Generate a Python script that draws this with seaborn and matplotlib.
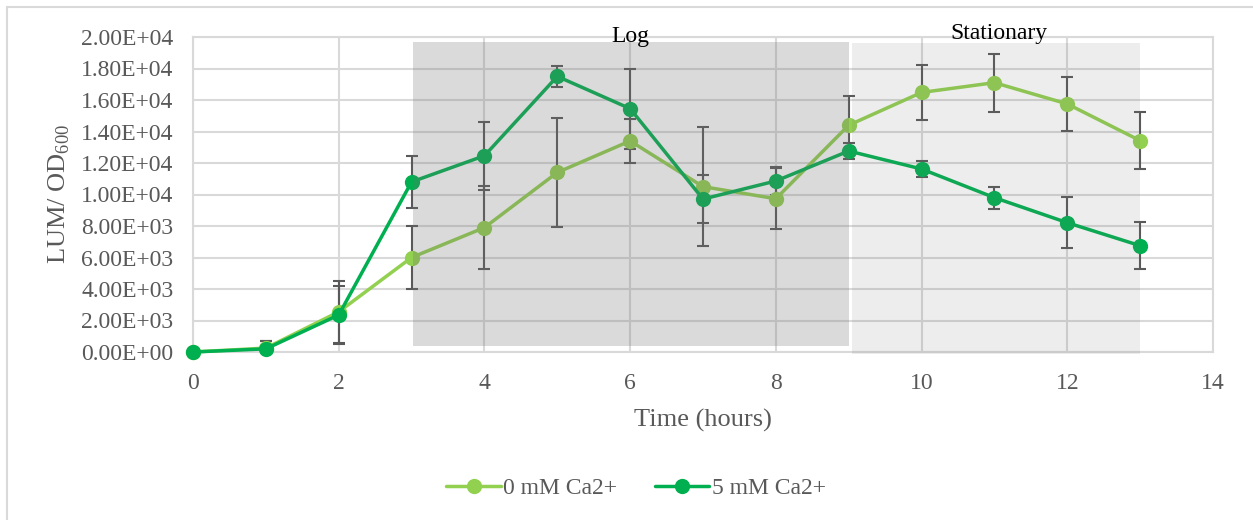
import numpy as np
import pandas as pd
import matplotlib
matplotlib.use("Agg")
import matplotlib.pyplot as plt
from matplotlib.patches import Rectangle
from matplotlib.lines import Line2D
from matplotlib.ticker import FuncFormatter, MultipleLocator
import seaborn as sns

# ---- data ----
time_h = [0, 1, 2, 3, 4, 5, 6, 7, 8, 9, 10, 11, 12, 13]
lum_0mM = [0, 250, 2550, 6000, 7900, 11400, 13400, 10500, 9730, 14400, 16480, 17100, 15750, 13420]
err_0mM = [0, 450, 1950, 2000, 2650, 3450, 1400, 3800, 1950, 1840, 1730, 1850, 1730, 1800]
lum_5mM = [0, 200, 2350, 10800, 12460, 17500, 15450, 9710, 10860, 12760, 11620, 9800, 8210, 6750]
err_5mM = [0, 500, 1850, 1630, 2170, 670, 2550, 1500, 900, 530, 500, 700, 1600, 1500]
series_names = ["0 mM Ca2+", "5 mM Ca2+"]
phase_labels = ["Log", "Stationary"]

df = pd.DataFrame({
    "Time": time_h * 2,
    "LUM": lum_0mM + lum_5mM,
    "Series": [series_names[0]] * len(time_h) + [series_names[1]] * len(time_h),
})

sns.set_theme(style="white")
plt.rcParams["font.family"] = ["Liberation Serif", "DejaVu Serif"]
plt.rcParams["mathtext.fontset"] = "custom"
plt.rcParams["mathtext.rm"] = "Liberation Serif"

W, H = 1253, 520
fig = plt.figure(figsize=(W / 100, H / 100), dpi=100)
ax = fig.add_axes([193 / W, 1 - 352 / H, 1020 / W, 315 / H])

colors = {series_names[0]: "#92D050", series_names[1]: "#00B050"}
grey_txt = "#595959"

# error bars
for vals, errs in [(lum_0mM, err_0mM), (lum_5mM, err_5mM)]:
    ax.errorbar(time_h, vals, yerr=errs, fmt="none", ecolor=grey_txt,
                elinewidth=1.5, capsize=4.5, capthick=1.5, zorder=2)

sns.lineplot(data=df, x="Time", y="LUM", hue="Series", palette=colors,
             marker="o", markersize=11, markeredgewidth=0, linewidth=2.5,
             ax=ax, legend=False, zorder=3)
for ln in ax.lines:
    if ln.get_marker() == "o":
        ln.set_clip_on(False)

# phase shading
ax.add_patch(Rectangle((3.02, 380), 9.0 - 3.02, 19680 - 380, facecolor="#717171",
                       alpha=0.26, edgecolor="none", zorder=4, clip_on=False))
ax.add_patch(Rectangle((9.04, -130), 13.0 - 9.04, 19600 + 130, facecolor="#717171",
                       alpha=0.127, edgecolor="none", zorder=4, clip_on=False))
ax.text(6.0, 20060, phase_labels[0], ha="center", va="center", fontsize=17,
        color="black", zorder=6, clip_on=False)
ax.text(11.06, 20250, phase_labels[1], ha="center", va="center", fontsize=17,
        color="black", zorder=6, clip_on=False)

ax.set_xlim(0, 14)
ax.set_ylim(0, 20000)
ax.xaxis.set_major_locator(MultipleLocator(2))
ax.yaxis.set_major_locator(MultipleLocator(2000))
ax.yaxis.set_major_formatter(FuncFormatter(lambda v, p: f"{v:.2E}"))
ax.grid(True, color="#D9D9D9", linewidth=1.5, zorder=0)
ax.set_axisbelow(True)
for s in ax.spines.values():
    s.set_color("#D9D9D9")
    s.set_linewidth(1.5)
ax.tick_params(axis="both", length=0, labelsize=17, labelcolor=grey_txt)
ax.tick_params(axis="y", pad=14)
ax.tick_params(axis="x", pad=15)
ax.set_xlabel("Time (hours)", fontsize=19, color=grey_txt, labelpad=11)
ax.set_ylabel(r"LUM/ OD$_\mathrm{600}$", fontsize=19, color=grey_txt)
ax.yaxis.set_label_coords(-(193 - 72) / 1020, 0.5)

handles = [Line2D([], [], color=colors[n], marker="o", markersize=11, markeredgewidth=0,
                  linewidth=2.5) for n in series_names]
fig.legend(handles, series_names, loc="center", bbox_to_anchor=(636 / W, 1 - 488 / H),
           ncol=2, frameon=False, fontsize=17, labelcolor=grey_txt,
           handlelength=2.3, handletextpad=0.1, columnspacing=1.6)

# outer chart border (top and left visible)
fig.add_artist(Line2D([7 / W, 1.0], [1 - 7 / H, 1 - 7 / H], color="#D9D9D9", linewidth=1.5,
                      transform=fig.transFigure))
fig.add_artist(Line2D([7 / W, 7 / W], [0, 1 - 7 / H], color="#D9D9D9", linewidth=1.5,
                      transform=fig.transFigure))

fig.savefig("out.png", dpi=100)
